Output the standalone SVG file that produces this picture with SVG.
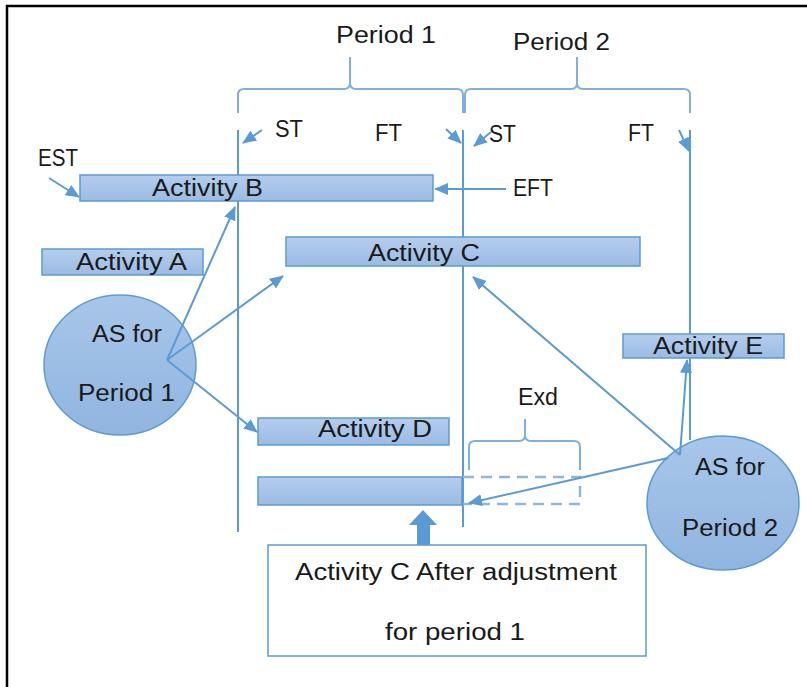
<svg xmlns="http://www.w3.org/2000/svg" width="807" height="687" viewBox="0 0 807 687">
<defs>
<linearGradient id="barGrad" x1="0" y1="0" x2="0" y2="1">
<stop offset="0" stop-color="#b5cdec"/>
<stop offset="1" stop-color="#9bbbe4"/>
</linearGradient>
<linearGradient id="circGrad" x1="0" y1="0" x2="0" y2="1">
<stop offset="0" stop-color="#a8c6e9"/>
<stop offset="1" stop-color="#90b5e0"/>
</linearGradient>
<marker id="arr" markerUnits="userSpaceOnUse" markerWidth="14" markerHeight="12" refX="13" refY="6" orient="auto">
<path d="M0,0 L14,6 L0,12 Z" fill="#5b9bd5"/>
</marker>
<style>
.bar{fill:url(#barGrad);stroke:#5b9bd5;stroke-width:1.5}
.circ{fill:url(#circGrad);stroke:#5b9bd5;stroke-width:1.5}
.ln{fill:none;stroke:#5b9bd5;stroke-width:2}
.conn{fill:none;stroke:#5b9bd5;stroke-width:2;marker-end:url(#arr)}
.brace{fill:none;stroke:#7fb0e0;stroke-width:2}
.dash{fill:none;stroke:#8db6e3;stroke-width:2.5;stroke-dasharray:11,7}
text{font-family:"Liberation Sans",Arial,sans-serif;font-size:23px;fill:#1a1a1a}
</style>
</defs>
<rect width="807" height="687" fill="#ffffff"/>
<path d="M7,687 V6 H807" fill="none" stroke="#000" stroke-width="2.5"/>

<g id="labels">
<text x="336" y="43" textLength="100" lengthAdjust="spacingAndGlyphs">Period 1</text>
<text x="513" y="50" textLength="97" lengthAdjust="spacingAndGlyphs">Period 2</text>
<text x="275" y="137" textLength="28" lengthAdjust="spacingAndGlyphs">ST</text>
<text x="375" y="141" textLength="27" lengthAdjust="spacingAndGlyphs">FT</text>
<text x="489" y="142" textLength="27" lengthAdjust="spacingAndGlyphs">ST</text>
<text x="628" y="141" textLength="26" lengthAdjust="spacingAndGlyphs">FT</text>
<text x="38" y="166" textLength="40" lengthAdjust="spacingAndGlyphs">EST</text>
<text x="513" y="196" textLength="40" lengthAdjust="spacingAndGlyphs">EFT</text>
<text x="518" y="405" textLength="40" lengthAdjust="spacingAndGlyphs">Exd</text>
</g>

<g id="braces">
<path class="brace" d="M238,113 V95 Q238,89 244,89 H344 Q350,89 350,83 V57 V83 Q350,89 356,89 H457 Q463,89 463,95 V113"/>
<path class="brace" d="M465,113 V95 Q465,89 471,89 H571 Q577,89 577,83 V57 V83 Q577,89 583,89 H684 Q690,89 690,95 V113"/>
<path class="brace" d="M469,470 V447 Q469,441 475,441 H519 Q525,441 525,435 V419 V435 Q525,441 531,441 H574 Q580,441 580,447 V470"/>
</g>

<g id="timelines">
<line class="ln" x1="238" y1="130" x2="238" y2="532"/>
<line class="ln" x1="463" y1="130" x2="463" y2="527"/>
<line class="ln" x1="690" y1="130" x2="690" y2="440"/>
</g>

<g id="activity-b">
<rect class="bar" x="80" y="175" width="353" height="26"/>
<text x="152" y="196" textLength="111" lengthAdjust="spacingAndGlyphs">Activity B</text>
</g>
<g id="activity-a">
<rect class="bar" x="42" y="249" width="161" height="26"/>
<text x="76" y="270" textLength="111" lengthAdjust="spacingAndGlyphs">Activity A</text>
</g>
<g id="activity-c">
<rect class="bar" x="286" y="237" width="354" height="29"/>
<text x="368" y="261" textLength="112" lengthAdjust="spacingAndGlyphs">Activity C</text>
</g>
<g id="activity-e">
<rect class="bar" x="623" y="334" width="161" height="24"/>
<text x="653" y="354" textLength="110" lengthAdjust="spacingAndGlyphs">Activity E</text>
</g>
<g id="activity-d">
<rect class="bar" x="258" y="418" width="191" height="27"/>
<text x="318" y="437" textLength="114" lengthAdjust="spacingAndGlyphs">Activity D</text>
</g>
<g id="activity-c-adjusted">
<rect class="bar" x="258" y="477" width="204" height="28"/>
<path class="dash" d="M463,477 H580 V504 H463"/>
</g>

<g id="as-period-1">
<ellipse class="circ" cx="120" cy="365" rx="76" ry="70"/>
<text x="92" y="342" textLength="70" lengthAdjust="spacingAndGlyphs">AS for</text>
<text x="78" y="401" textLength="97" lengthAdjust="spacingAndGlyphs">Period 1</text>
</g>
<g id="as-period-2">
<ellipse class="circ" cx="723" cy="503" rx="76" ry="67"/>
<text x="695" y="475" textLength="70" lengthAdjust="spacingAndGlyphs">AS for</text>
<text x="682" y="536" textLength="96" lengthAdjust="spacingAndGlyphs">Period 2</text>
</g>

<g id="note">
<rect x="268" y="545" width="378" height="111" fill="#ffffff" stroke="#5b9bd5" stroke-width="1.5"/>
<text x="295" y="580" textLength="322" lengthAdjust="spacingAndGlyphs">Activity C After adjustment</text>
<text x="385" y="640" textLength="140" lengthAdjust="spacingAndGlyphs">for period 1</text>
</g>

<g id="connectors">
<line class="conn" x1="262" y1="130" x2="243" y2="143"/>
<line class="conn" x1="446" y1="129" x2="461" y2="143"/>
<line class="conn" x1="491" y1="132" x2="474" y2="146"/>
<line class="conn" x1="679" y1="130" x2="689" y2="151"/>
<line class="conn" x1="49" y1="178" x2="79" y2="197"/>
<line class="conn" x1="506" y1="189" x2="435" y2="189"/>
<line class="conn" x1="167" y1="360" x2="235" y2="207"/>
<line class="conn" x1="167" y1="360" x2="283" y2="276"/>
<line class="conn" x1="167" y1="360" x2="257" y2="432"/>
<line class="conn" x1="680" y1="455" x2="473" y2="277"/>
<line class="conn" x1="680" y1="455" x2="687" y2="360"/>
<line class="conn" x1="668" y1="458" x2="469" y2="503"/>
<polygon points="423,510 409,525 417,525 417,545 430,545 430,525 437,525" fill="#5b9bd5"/>
</g>
</svg>
